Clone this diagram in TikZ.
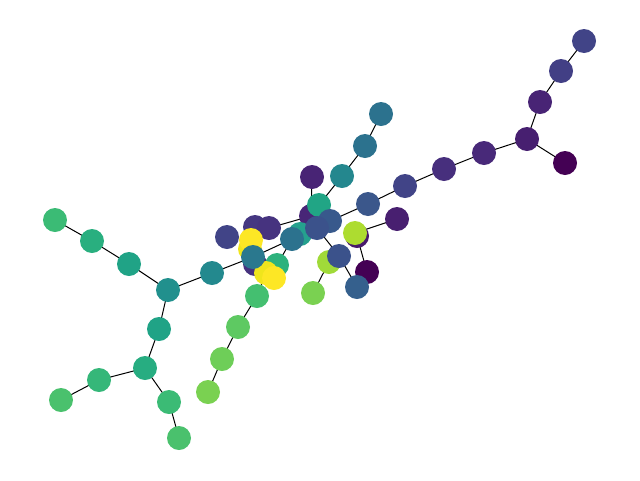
\documentclass[tikz,border=0pt]{standalone}
\begin{document}
\begin{tikzpicture}[x=1pt,y=-1pt,
  vn/.style={circle,minimum size=24pt,inner sep=0pt,draw=none},
  edge/.style={draw=black,line width=1pt}]
\useasboundingbox (0,0) rectangle (640,480);
% coordinates
\coordinate (a1) at (584,41);
\coordinate (a2) at (561,71);
\coordinate (a3) at (540,102);
\coordinate (a4) at (527,139);
\coordinate (a5) at (565,163);
\coordinate (a6) at (484,153);
\coordinate (a7) at (444,169);
\coordinate (a8) at (405,186);
\coordinate (a9) at (368,204);
\coordinate (t1) at (381,114);
\coordinate (t2) at (365,146);
\coordinate (t3) at (342,176);
\coordinate (t4) at (319,205);
\coordinate (p1) at (312,177);
\coordinate (c1) at (311,216);
\coordinate (c2) at (317,228);
\coordinate (c3) at (330,221);
\coordinate (c4) at (397,219);
\coordinate (c5) at (357,236);
\coordinate (c6) at (355,233);
\coordinate (c7) at (367,272);
\coordinate (c8) at (339,256);
\coordinate (c9) at (329,262);
\coordinate (c10) at (313,293);
\coordinate (c11) at (357,287);
\coordinate (c12) at (300,234);
\coordinate (c13) at (292,239);
\coordinate (d1) at (227,237);
\coordinate (d2) at (255,227);
\coordinate (d3) at (269,228);
\coordinate (d4) at (251,240);
\coordinate (d4b) at (250,249);
\coordinate (d5) at (255,264);
\coordinate (d6) at (253,257);
\coordinate (d7) at (277,265);
\coordinate (d8) at (266,273);
\coordinate (d9) at (274,278);
\coordinate (b1) at (257,296);
\coordinate (b2) at (238,327);
\coordinate (b3) at (222,359);
\coordinate (b4) at (208,392);
\coordinate (l1) at (212,273);
\coordinate (l2) at (168,290);
\coordinate (l3) at (129,264);
\coordinate (l4) at (92,241);
\coordinate (l5) at (55,220);
\coordinate (l6) at (159,329);
\coordinate (l7) at (145,368);
\coordinate (l8) at (99,380);
\coordinate (l9) at (61,400);
\coordinate (l10) at (169,402);
\coordinate (l11) at (179,438);
% edges
\foreach \u/\v in {a1/a2,a2/a3,a3/a4,a4/a5,a4/a6,a6/a7,a7/a8,a8/a9,a9/c3,
  t1/t2,t2/t3,t3/t4,p1/c1,d3/c1,c4/c6,c5/c7,c2/c8,c8/c11,c9/c10,
  l1/d6,d6/c13,c13/d7,b1/b2,b2/b3,b3/b4,b1/d8,
  l5/l4,l4/l3,l3/l2,l2/l1,l2/l6,l6/l7,l7/l8,l8/l9,l7/l10,l10/l11}
  \draw[edge] (\u) -- (\v);
% nodes (back to front)
\node[vn,fill={rgb,255:red,72;green,38;blue,119}] (n-c1) at (c1) {};
\node[vn,fill={rgb,255:red,72;green,26;blue,108}] (n-c5) at (c5) {};
\node[vn,fill={rgb,255:red,37;green,161;blue,142}] (n-c12) at (c12) {};
\node[vn,fill={rgb,255:red,70;green,50;blue,126}] (n-d5) at (d5) {};
\node[vn,fill={rgb,255:red,65;green,68;blue,135}] (n-a1) at (a1) {};
\node[vn,fill={rgb,255:red,66;green,63;blue,133}] (n-a2) at (a2) {};
\node[vn,fill={rgb,255:red,72;green,36;blue,117}] (n-a3) at (a3) {};
\node[vn,fill={rgb,255:red,71;green,31;blue,112}] (n-a4) at (a4) {};
\node[vn,fill={rgb,255:red,68;green,1;blue,84}] (n-a5) at (a5) {};
\node[vn,fill={rgb,255:red,72;green,41;blue,121}] (n-a6) at (a6) {};
\node[vn,fill={rgb,255:red,71;green,47;blue,125}] (n-a7) at (a7) {};
\node[vn,fill={rgb,255:red,65;green,68;blue,135}] (n-a8) at (a8) {};
\node[vn,fill={rgb,255:red,59;green,87;blue,139}] (n-a9) at (a9) {};
\node[vn,fill={rgb,255:red,44;green,114;blue,142}] (n-t1) at (t1) {};
\node[vn,fill={rgb,255:red,44;green,114;blue,142}] (n-t2) at (t2) {};
\node[vn,fill={rgb,255:red,36;green,135;blue,142}] (n-t3) at (t3) {};
\node[vn,fill={rgb,255:red,72;green,36;blue,117}] (n-p1) at (p1) {};
\node[vn,fill={rgb,255:red,33;green,165;blue,133}] (n-t4) at (t4) {};
\node[vn,fill={rgb,255:red,56;green,89;blue,140}] (n-c3) at (c3) {};
\node[vn,fill={rgb,255:red,59;green,82;blue,139}] (n-c2) at (c2) {};
\node[vn,fill={rgb,255:red,72;green,31;blue,112}] (n-c4) at (c4) {};
\node[vn,fill={rgb,255:red,173;green,220;blue,48}] (n-c6) at (c6) {};
\node[vn,fill={rgb,255:red,68;green,1;blue,84}] (n-c7) at (c7) {};
\node[vn,fill={rgb,255:red,160;green,218;blue,57}] (n-c9) at (c9) {};
\node[vn,fill={rgb,255:red,59;green,82;blue,139}] (n-c8) at (c8) {};
\node[vn,fill={rgb,255:red,122;green,209;blue,81}] (n-c10) at (c10) {};
\node[vn,fill={rgb,255:red,53;green,96;blue,141}] (n-c11) at (c11) {};
\node[vn,fill={rgb,255:red,44;green,114;blue,142}] (n-c13) at (c13) {};
\node[vn,fill={rgb,255:red,65;green,68;blue,135}] (n-d1) at (d1) {};
\node[vn,fill={rgb,255:red,69;green,55;blue,129}] (n-d2) at (d2) {};
\node[vn,fill={rgb,255:red,70;green,51;blue,127}] (n-d3) at (d3) {};
\node[vn,fill={rgb,255:red,240;green,229;blue,28}] (n-d4b) at (d4b) {};
\node[vn,fill={rgb,255:red,253;green,231;blue,37}] (n-d4) at (d4) {};
\node[vn,fill={rgb,255:red,45;green,178;blue,125}] (n-d7) at (d7) {};
\node[vn,fill={rgb,255:red,240;green,229;blue,28}] (n-d8) at (d8) {};
\node[vn,fill={rgb,255:red,253;green,231;blue,37}] (n-d9) at (d9) {};
\node[vn,fill={rgb,255:red,42;green,120;blue,142}] (n-d6) at (d6) {};
\node[vn,fill={rgb,255:red,68;green,191;blue,112}] (n-b1) at (b1) {};
\node[vn,fill={rgb,255:red,94;green,201;blue,98}] (n-b2) at (b2) {};
\node[vn,fill={rgb,255:red,110;green,206;blue,88}] (n-b3) at (b3) {};
\node[vn,fill={rgb,255:red,122;green,209;blue,81}] (n-b4) at (b4) {};
\node[vn,fill={rgb,255:red,35;green,137;blue,142}] (n-l1) at (l1) {};
\node[vn,fill={rgb,255:red,33;green,144;blue,141}] (n-l2) at (l2) {};
\node[vn,fill={rgb,255:red,32;green,163;blue,134}] (n-l3) at (l3) {};
\node[vn,fill={rgb,255:red,41;green,175;blue,127}] (n-l4) at (l4) {};
\node[vn,fill={rgb,255:red,59;green,187;blue,117}] (n-l5) at (l5) {};
\node[vn,fill={rgb,255:red,32;green,163;blue,134}] (n-l6) at (l6) {};
\node[vn,fill={rgb,255:red,39;green,173;blue,129}] (n-l7) at (l7) {};
\node[vn,fill={rgb,255:red,53;green,183;blue,121}] (n-l8) at (l8) {};
\node[vn,fill={rgb,255:red,74;green,193;blue,109}] (n-l9) at (l9) {};
\node[vn,fill={rgb,255:red,59;green,187;blue,117}] (n-l10) at (l10) {};
\node[vn,fill={rgb,255:red,74;green,193;blue,109}] (n-l11) at (l11) {};
\end{tikzpicture}
\end{document}
